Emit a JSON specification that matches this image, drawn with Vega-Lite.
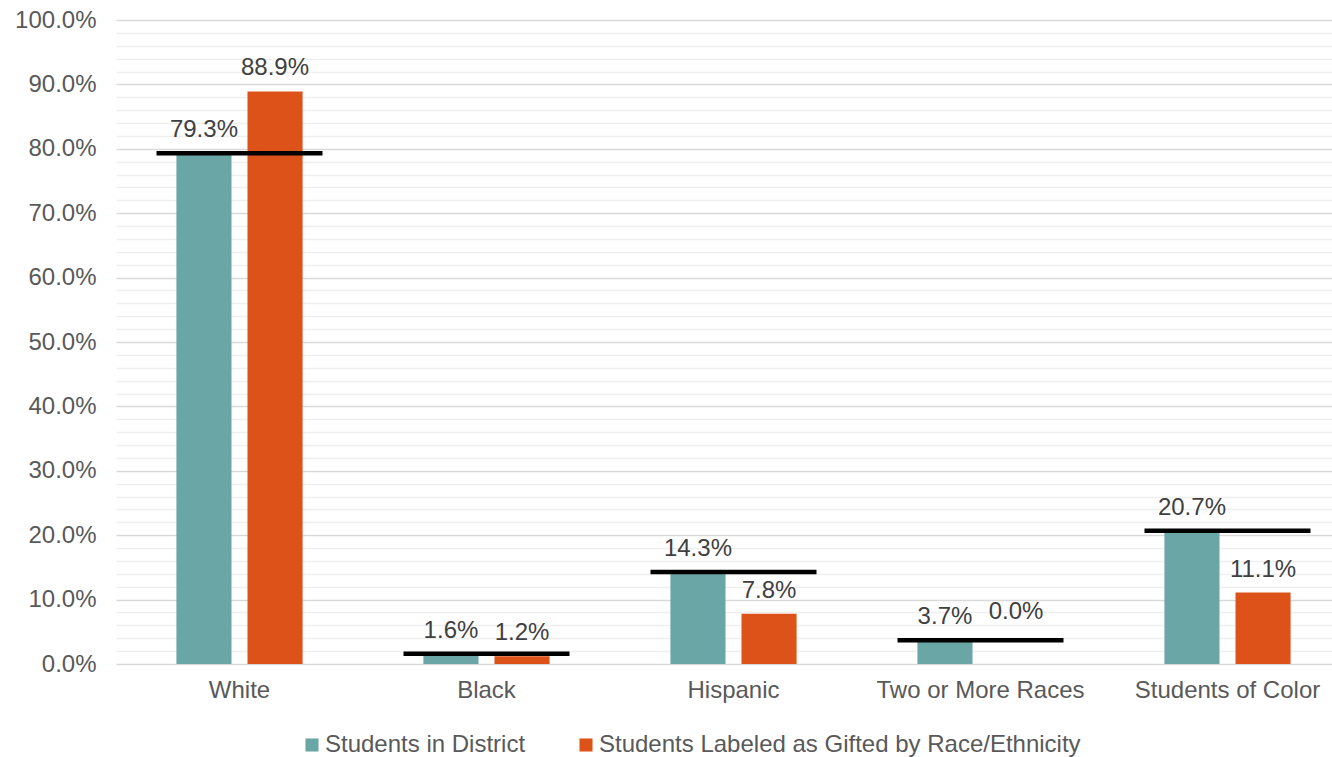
{
  "$schema": "https://vega.github.io/schema/vega-lite/v6.json",
  "width": 1235,
  "height": 644,
  "autosize": {"type": "none"},
  "padding": {"left": 116, "top": 20, "right": 0, "bottom": 93},
  "background": "white",
  "config": {
    "view": {"stroke": null},
    "font": "Liberation Sans",
    "text": {"font": "Liberation Sans"}
  },
  "data": {
    "values": [
      {"category": "White", "series": "Students in District", "value": 0.793},
      {"category": "White", "series": "Students Labeled as Gifted by Race/Ethnicity", "value": 0.889},
      {"category": "Black", "series": "Students in District", "value": 0.016},
      {"category": "Black", "series": "Students Labeled as Gifted by Race/Ethnicity", "value": 0.012},
      {"category": "Hispanic", "series": "Students in District", "value": 0.143},
      {"category": "Hispanic", "series": "Students Labeled as Gifted by Race/Ethnicity", "value": 0.078},
      {"category": "Two or More Races", "series": "Students in District", "value": 0.037},
      {"category": "Two or More Races", "series": "Students Labeled as Gifted by Race/Ethnicity", "value": 0.0},
      {"category": "Students of Color", "series": "Students in District", "value": 0.207},
      {"category": "Students of Color", "series": "Students Labeled as Gifted by Race/Ethnicity", "value": 0.111}
    ]
  },
  "encoding": {
    "x": {
      "field": "category",
      "type": "nominal",
      "sort": null,
      "scale": {"paddingInner": 0, "paddingOuter": 0},
      "axis": {
        "title": null,
        "labelAngle": 0,
        "labelFontSize": 24,
        "labelColor": "#595959",
        "labelPadding": 14,
        "labelLimit": 400,
        "ticks": false,
        "domain": false,
        "grid": false
      }
    },
    "y": {
      "field": "value",
      "type": "quantitative",
      "scale": {"domain": [0, 1], "nice": false},
      "axis": {
        "title": null,
        "values": [0,0.02,0.04,0.06,0.08,0.1,0.12,0.14,0.16,0.18,0.2,0.22,0.24,0.26,0.28,0.3,0.32,0.34,0.36,0.38,0.4,0.42,0.44,0.46,0.48,0.5,0.52,0.54,0.56,0.58,0.6,0.62,0.64,0.66,0.68,0.7,0.72,0.74,0.76,0.78,0.8,0.82,0.84,0.86,0.88,0.9,0.92,0.94,0.96,0.98,1],
        "labelExpr": "round(datum.value*50) % 5 == 0 ? format(datum.value, '.1%') : ''",
        "labelFontSize": 24,
        "labelColor": "#595959",
        "labelPadding": 20,
        "ticks": false,
        "domain": false,
        "gridColor": {"condition": {"test": "round(datum.value*50) % 5 == 0", "value": "#d9d9d9"}, "value": "#efefef"},
        "gridWidth": 1.5
      }
    }
  },
  "layer": [
    {
      "mark": {"type": "bar"},
      "encoding": {
        "xOffset": {
          "field": "series",
          "type": "nominal",
          "sort": null,
          "scale": {"paddingInner": 0.225, "paddingOuter": 0.85}
        },
        "color": {
          "field": "series",
          "type": "nominal",
          "sort": null,
          "scale": {"range": ["#69A6A5", "#DC5219"]},
          "legend": {
            "title": null,
            "orient": "none",
            "direction": "horizontal",
            "legendX": 184,
            "legendY": 713,
            "symbolType": "square",
            "symbolSize": 170,
            "symbolStrokeWidth": 0,
            "symbolOpacity": 1,
            "labelFontSize": 24,
            "labelColor": "#595959",
            "labelOffset": 1,
            "columnPadding": 48,
            "labelLimit": 700
          }
        }
      }
    },
    {
      "transform": [{"filter": "datum.series == 'Students in District'"}],
      "mark": {"type": "tick", "orient": "horizontal", "size": 166, "thickness": 4.5, "color": "#000000", "opacity": 1}
    },
    {
      "transform": [{"filter": "datum.value > 0"}],
      "mark": {"type": "text", "fontSize": 24, "color": "#404040", "baseline": "middle", "dy": -23},
      "encoding": {
        "xOffset": {"field": "series", "type": "nominal", "sort": null},
        "text": {"field": "value", "type": "quantitative", "format": ".1%"}
      }
    },
    {
      "transform": [{"filter": "datum.value == 0"}],
      "mark": {"type": "text", "fontSize": 24, "color": "#404040", "baseline": "middle", "dy": -52},
      "encoding": {
        "xOffset": {"field": "series", "type": "nominal", "sort": null},
        "text": {"field": "value", "type": "quantitative", "format": ".1%"}
      }
    }
  ]
}
